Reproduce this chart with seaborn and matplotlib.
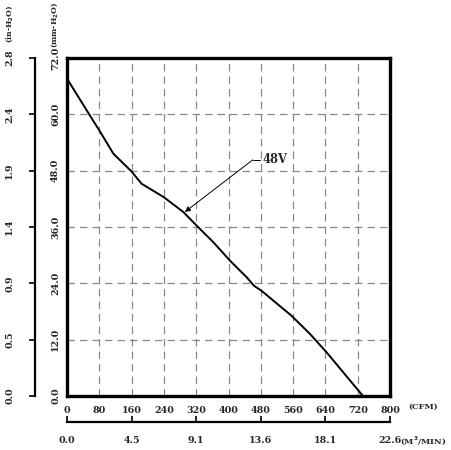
import matplotlib
matplotlib.use("Agg")
import matplotlib.pyplot as plt
import seaborn as sns
import pandas as pd

# ---- data ----
cfm = [0, 55, 82, 115, 127, 159, 185, 239, 288, 321, 362, 404, 445, 463, 482, 556, 602, 643, 733]
pressure_mm = [67.6, 60.0, 56.3, 51.6, 50.6, 47.9, 45.2, 42.4, 39.2, 36.3, 32.8, 28.8, 25.3, 23.5, 22.4, 17.1, 13.2, 9.3, 0.0]

cfm_ticks = [0, 80, 160, 240, 320, 400, 480, 560, 640, 720, 800]
mm_ticks = [0, 12, 24, 36, 48, 60, 72]
mm_labels = ["0.0", "12.0", "24.0", "36.0", "48.0", "60.0", "72.0"]
in_labels = ["0.0", "0.5", "0.9", "1.4", "1.9", "2.4", "2.8"]
m3_pos = [0, 160, 320, 480, 640, 800]
m3_labels = ["0.0", "4.5", "9.1", "13.6", "18.1", "22.6"]

series_label = "48V"
label_point = (292, 39.2)
label_text_pos = (485, 50.3)
leader_start = 460

df = pd.DataFrame({"cfm": cfm, "p": pressure_mm})

sns.set_theme(style="white")
plt.rcParams["font.family"] = ["DejaVu Serif"]
plt.rcParams["font.weight"] = "bold"

W, H = 451, 450
fig = plt.figure(figsize=(W / 100, H / 100), dpi=100)
L, R, T, B = 67, 390, 58, 396
rect = [L / W, 1 - B / H, (R - L) / W, (B - T) / H]
fs = 6.8
fs_t = 5.6

def ax_x(px):
    return (px - L) / (R - L)

def ax_y(py):
    return (B - py) / (B - T)

# in-H2O axis (behind)
ax_in = fig.add_axes(rect, facecolor="none")
ax_in.set_xlim(0, 800)
ax_in.set_ylim(0, 72)
for s in ["top", "right", "bottom"]:
    ax_in.spines[s].set_visible(False)
ax_in.spines["left"].set_position(("axes", -32 / (R - L)))
ax_in.spines["left"].set_linewidth(1.6)
ax_in.spines["left"].set_color("black")
ax_in.set_xticks([])
ax_in.set_yticks(mm_ticks)
ax_in.set_yticklabels(in_labels, rotation=90, va="center", fontsize=fs, fontweight="bold")
ax_in.tick_params(axis="y", direction="out", length=4, width=1.2, color="black", pad=11, left=True)
ax_in.set_yticks([0, 72], minor=True)
ax_in.tick_params(axis="y", which="minor", direction="out", length=8, width=1.6, color="black", left=True)
ax_in.text(ax_x(10), ax_y(24), "(in-H$_2$O)", transform=ax_in.transAxes, rotation=90,
           ha="center", va="center", fontsize=fs_t, fontweight="bold")

# m3/min axis
ax_m3 = fig.add_axes(rect, facecolor="none")
ax_m3.set_xlim(0, 800)
ax_m3.set_ylim(0, 72)
for s in ["top", "right", "left"]:
    ax_m3.spines[s].set_visible(False)
ax_m3.spines["bottom"].set_position(("axes", -26 / (B - T)))
ax_m3.spines["bottom"].set_linewidth(1.6)
ax_m3.spines["bottom"].set_color("black")
ax_m3.set_yticks([])
ax_m3.set_xticks(m3_pos)
ax_m3.set_xticklabels(m3_labels, fontsize=fs, fontweight="bold")
ax_m3.tick_params(axis="x", direction="in", length=4, width=1.2, color="black", pad=10, bottom=True)
ax_m3.set_xticks([0, 800], minor=True)
ax_m3.tick_params(axis="x", which="minor", direction="in", length=7, width=1.6, color="black", bottom=True)
ax_m3.text(ax_x(400), ax_y(441), "(M$^3$/MIN)", transform=ax_m3.transAxes,
           ha="left", va="center", fontsize=fs_t + 0.4, fontweight="bold")

# main axes
ax = fig.add_axes(rect)
ax.set_facecolor("white")
sns.lineplot(data=df, x="cfm", y="p", ax=ax, color="black", linewidth=1.4, sort=False)
ax.set_xlim(0, 800)
ax.set_ylim(0, 72)
ax.set_xticks(cfm_ticks)
ax.set_xticklabels([str(v) for v in cfm_ticks], fontsize=fs, fontweight="bold")
ax.set_yticks(mm_ticks)
ax.set_yticklabels(mm_labels, rotation=90, va="center", fontsize=fs, fontweight="bold")
ax.tick_params(axis="both", length=0)
ax.tick_params(axis="x", pad=7)
ax.tick_params(axis="y", pad=5)
ax.set_xlabel("")
ax.set_ylabel("")
ax.grid(True, color="#888888", linestyle=(0, (6, 4)), linewidth=0.9)
for s in ax.spines.values():
    s.set_linewidth(2.4)
    s.set_color("black")
ax.text(ax_x(408), ax_y(407), "(CFM)", transform=ax.transAxes,
        ha="left", va="center", fontsize=fs_t + 0.4, fontweight="bold")
ax.text(ax_x(54), ax_y(25), "(mm-H$_2$O)", transform=ax.transAxes, rotation=90,
        ha="center", va="center", fontsize=fs_t, fontweight="bold")

# annotation
ax.plot([leader_start, label_text_pos[0] - 6], [label_text_pos[1], label_text_pos[1]],
        color="black", linewidth=0.7)
ax.annotate("", xy=label_point, xytext=(leader_start, label_text_pos[1]),
            arrowprops=dict(arrowstyle="-|>", color="black", lw=0.7, mutation_scale=8,
                            shrinkA=0, shrinkB=0))
ax.text(label_text_pos[0], label_text_pos[1], series_label, ha="left", va="center",
        fontsize=fs + 1.5, fontweight="bold")

fig.savefig("out.png", dpi=100)
